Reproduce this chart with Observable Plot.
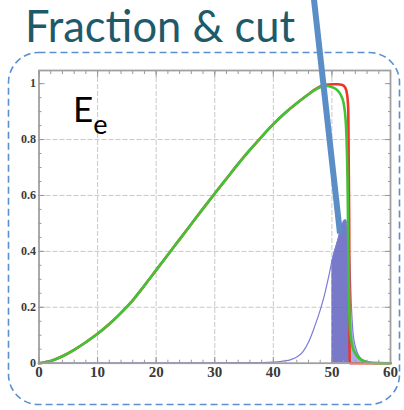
<!DOCTYPE html>
<html><head><meta charset="utf-8">
<script src="https://cdn.jsdelivr.net/npm/d3@7"></script>
<script src="https://cdn.jsdelivr.net/npm/@observablehq/plot@0.6"></script>
<style>
body{margin:0;background:#fff;}
#wrap{position:relative;width:404px;height:410px;overflow:hidden;background:#fff;}
#wrap svg{position:absolute;left:0;top:0;}
</style></head><body>
<div id="wrap">
<svg id="bg" width="404" height="410">
  <rect x="8.5" y="52.5" width="391" height="352" rx="30" ry="30" fill="#fff" stroke="#5b8fd0" stroke-width="1.6" stroke-dasharray="7 4"/>
</svg>
<div id="chart"></div>
<svg id="fg" width="404" height="410" style="pointer-events:none">
  <text x="25" y="42" font-family="Lato" font-size="43.5" fill="#1e5a69">Fraction &amp; cut</text>
  <text x="73" y="122" font-family="Lato" font-size="35" fill="#000">E<tspan font-size="27" dy="12">e</tspan></text>
</svg>
</div>
<script>
// Green curve
const greenX = [0,2,4,6,8,10,12,14,16,18,20,22,24,26,28,30,32,34,36,38,40,42,44,46,48,49,50,51,51.5,52,52.4,52.7,52.85,53,53.2,53.5,54,54.5,55,56,57,60];
const greenY = [0,0.008,0.025,0.048,0.075,0.105,0.14,0.18,0.225,0.278,0.333,0.388,0.443,0.498,0.553,0.607,0.66,0.713,0.763,0.81,0.855,0.895,0.93,0.962,0.987,0.992,0.988,0.975,0.96,0.93,0.85,0.6,0.3,0.16,0.1,0.06,0.035,0.02,0.012,0.004,0.001,0];
// Red curve
const redX = [0,2,4,6,8,10,12,14,16,18,20,22,24,26,28,30,32,34,36,38,40,42,44,46,47,48,49,50,51,51.8,52.3,52.6,52.8,52.95,53.02,53.1,60];
const redY = [0,0.008,0.025,0.048,0.075,0.105,0.14,0.18,0.225,0.278,0.333,0.388,0.443,0.498,0.553,0.607,0.66,0.713,0.763,0.81,0.855,0.895,0.93,0.962,0.978,0.99,0.996,0.998,0.998,0.995,0.985,0.96,0.9,0.5,0.02,0,0];
// Blue curve
const blueX = [0,36,40,42,43,44,45,46,47,48,48.8,49.5,50,50.5,51,51.5,52,52.3,52.6,52.9,53,53.1,53.3,53.6,54,54.5,55,56,57,60];
const blueY = [0,0.002,0.004,0.008,0.013,0.022,0.04,0.075,0.128,0.19,0.25,0.315,0.365,0.405,0.44,0.48,0.508,0.513,0.495,0.44,0.39,0.34,0.22,0.11,0.06,0.03,0.016,0.006,0.002,0];
// cut window
const cutLo = 50, cutHi = 53;
// ticks
const xMajor = [0,10,20,30,40,50,60];
const xMinor = [0,2,4,6,8,10,12,14,16,18,20,22,24,26,28,30,32,34,36,38,40,42,44,46,48,50,52,54,56,58,60];
const xGrid = [10,20,30,40,50];
const yMajor = [0,0.2,0.4,0.6,0.8,1];
const yMinor = [0,0.05,0.1,0.15,0.2,0.25,0.3,0.35,0.4,0.45,0.5,0.55,0.6,0.65,0.7,0.75,0.8,0.85,0.9,0.95,1];
const yGrid = [0.2,0.4,0.6,0.8];
// pointer annotation (data coords)
const pointer = [{x1:46.94, y1:1.30, x2:51.38, y2:0.464}];

const green = greenX.map((x,i)=>({x, y:greenY[i]}));
const red = redX.map((x,i)=>({x, y:redY[i]}));
const blue = blueX.map((x,i)=>({x, y:blueY[i]}));
const darkFill = blue.filter(d => d.x >= cutLo && d.x <= cutHi);
const lightFill = blue.filter(d => d.x >= cutHi);

const serif = {fontFamily:"Liberation Serif", fontWeight:"bold", fill:"#3a3a3a"};
const tickStyle = {fill:"none", label:null, stroke:"#999"};
const plot = Plot.plot({
  width: 404, height: 410,
  marginLeft: 38.5, marginRight: 14, marginTop: 70, marginBottom: 47.3,
  style: {background:"transparent", overflow:"visible"},
  x: {domain:[0,60], label:null},
  y: {domain:[0,1.047], label:null},
  marks: [
    Plot.gridX(xGrid, {stroke:"#c8c8c8", strokeOpacity:1, strokeDasharray:"5,2"}),
    Plot.gridY(yGrid, {stroke:"#c8c8c8", strokeOpacity:1, strokeDasharray:"5,2"}),
    Plot.areaY(darkFill, {x:"x", y:"y", fill:"#6262c0", fillOpacity:0.85, curve:"monotone-x"}),
    Plot.areaY(lightFill, {x:"x", y:"y", fill:"#8c8cdc", fillOpacity:0.7, curve:"monotone-x"}),
    Plot.line(blue, {x:"x", y:"y", stroke:"#7c7cd8", strokeWidth:1.2, curve:"monotone-x"}),
    Plot.line(red, {x:"x", y:"y", stroke:"#ee3528", strokeWidth:2.6, curve:"monotone-x"}),
    Plot.line(green, {x:"x", y:"y", stroke:"#42c236", strokeWidth:2.6, curve:"monotone-x"}),
    Plot.frame({stroke:"#a0a0a0", strokeWidth:1.8}),
    Plot.axisX(xMajor, {anchor:"bottom", tickSize:-6, ...tickStyle}),
    Plot.axisX(xMinor, {anchor:"bottom", tickSize:-3, ...tickStyle}),
    Plot.axisX(xMajor, {anchor:"top", tickSize:-6, ...tickStyle}),
    Plot.axisX(xMinor, {anchor:"top", tickSize:-3, ...tickStyle}),
    Plot.axisY(yMajor, {anchor:"left", tickSize:-6, ...tickStyle}),
    Plot.axisY(yMinor, {anchor:"left", tickSize:-3, ...tickStyle}),
    Plot.axisY(yMajor, {anchor:"right", tickSize:-6, ...tickStyle}),
    Plot.axisY(yMinor, {anchor:"right", tickSize:-3, ...tickStyle}),
    Plot.axisX(xMajor, {anchor:"bottom", tickSize:0, tickPadding:3, label:null, fontSize:15, ...serif, tickFormat:d=>String(d)}),
    Plot.axisY(yMajor, {anchor:"left", tickSize:0, tickPadding:3, label:null, fontSize:12, ...serif, tickFormat:d=>String(d)}),
    Plot.link(pointer, {x1:"x1", y1:"y1", x2:"x2", y2:"y2", stroke:"#5b8ec6", strokeWidth:6, strokeLinecap:"butt"})
  ]
});
document.getElementById("chart").appendChild(plot);
</script>
</body></html>
